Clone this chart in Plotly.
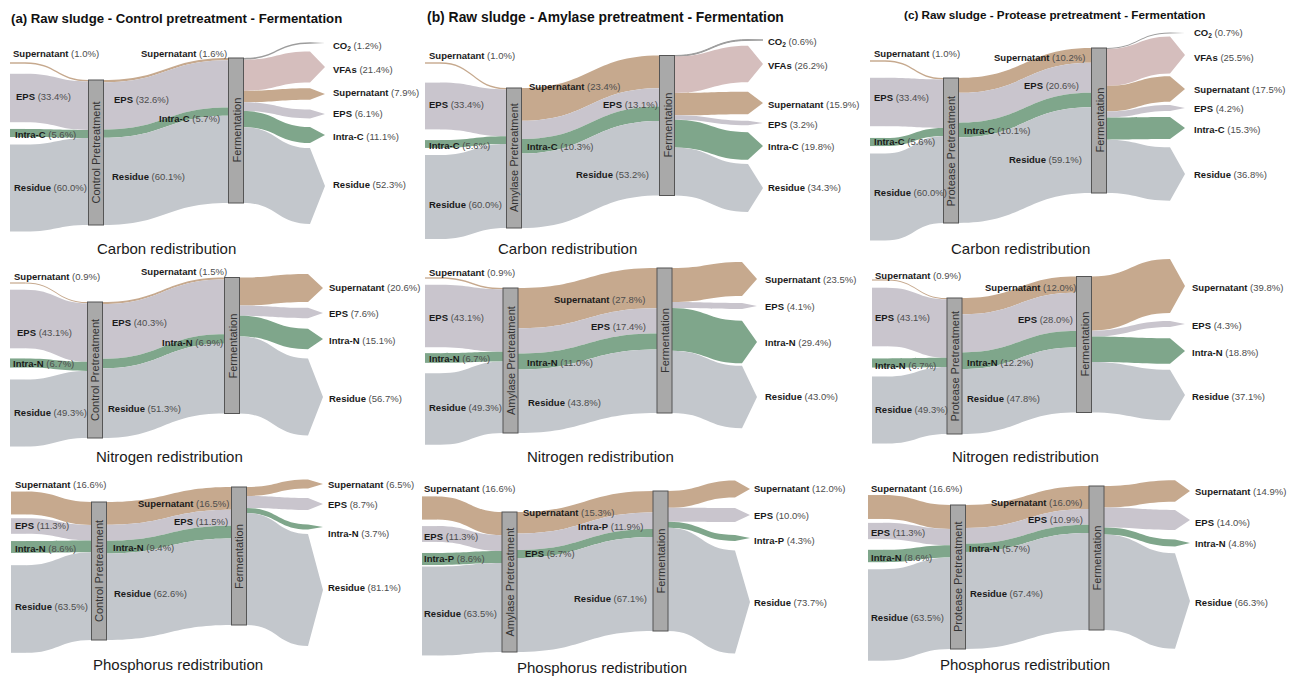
import plotly.graph_objects as go

W, HT = 1295, 676

# ---------------- data ----------------
raw_kinds = ["sup", "eps", "intra", "res"]
raw_values_C = [1.0, 33.4, 5.6, 60.0]
raw_values_N = [0.9, 43.1, 6.7, 49.3]
raw_values_P = [16.6, 11.3, 8.6, 63.5]
raw_names_C = ["Supernatant", "EPS", "Intra-C", "Residue"]
raw_names_N = ["Supernatant", "EPS", "Intra-N", "Residue"]
raw_names_P_ac = ["Supernatant", "EPS", "Intra-N", "Residue"]
raw_names_P_b = ["Supernatant", "EPS", "Intra-P", "Residue"]

mid_kinds = ["sup", "eps", "intra", "res"]
mid_names_aC = ["Supernatant", "EPS", "Intra-C", "Residue"]
mid_values_aC = [1.6, 32.6, 5.7, 60.1]
mid_names_aN = ["Supernatant", "EPS", "Intra-N", "Residue"]
mid_values_aN = [1.5, 40.3, 6.9, 51.3]
mid_names_aP = ["Supernatant", "EPS", "Intra-N", "Residue"]
mid_values_aP = [16.5, 11.5, 9.4, 62.6]
mid_names_bC = ["Supernatant", "EPS", "Intra-C", "Residue"]
mid_values_bC = [23.4, 13.1, 10.3, 53.2]
mid_names_bN = ["Supernatant", "EPS", "Intra-N", "Residue"]
mid_values_bN = [27.8, 17.4, 11.0, 43.8]
mid_names_bP = ["Supernatant", "Intra-P", "EPS", "Residue"]
mid_values_bP = [15.3, 11.9, 5.7, 67.1]
mid_names_cC = ["Supernatant", "EPS", "Intra-C", "Residue"]
mid_values_cC = [10.2, 20.6, 10.1, 59.1]
mid_names_cN = ["Supernatant", "EPS", "Intra-N", "Residue"]
mid_values_cN = [12.0, 28.0, 12.2, 47.8]
mid_names_cP = ["Supernatant", "EPS", "Intra-N", "Residue"]
mid_values_cP = [16.0, 10.9, 5.7, 67.4]

out_kinds_C = ["co2", "vfa", "sup", "eps", "intra", "res"]
out_kinds_NP = ["sup", "eps", "intra", "res"]
out_names_C = ["CO<sub>2</sub>", "VFAs", "Supernatant", "EPS", "Intra-C", "Residue"]
out_names_N = ["Supernatant", "EPS", "Intra-N", "Residue"]
out_names_P_ac = ["Supernatant", "EPS", "Intra-N", "Residue"]
out_names_P_b = ["Supernatant", "EPS", "Intra-P", "Residue"]
out_values_aC = [1.2, 21.4, 7.9, 6.1, 11.1, 52.3]
out_values_aN = [20.6, 7.6, 15.1, 56.7]
out_values_aP = [6.5, 8.7, 3.7, 81.1]
out_values_bC = [0.6, 26.2, 15.9, 3.2, 19.8, 34.3]
out_values_bN = [23.5, 4.1, 29.4, 43.0]
out_values_bP = [12.0, 10.0, 4.3, 73.7]
out_values_cC = [0.7, 25.5, 17.5, 4.2, 15.3, 36.8]
out_values_cN = [39.8, 4.3, 18.8, 37.1]
out_values_cP = [14.9, 14.0, 4.8, 66.3]

pre_names = {"a": "Control Pretreatment", "b": "Amylase Pretreatment", "c": "Protease Pretreatment"}
col_titles = {"a": "(a) Raw sludge - Control pretreatment - Fermentation",
              "b": "(b) Raw sludge - Amylase pretreatment - Fermentation",
              "c": "(c) Raw sludge - Protease pretreatment - Fermentation"}
row_captions = {"C": "Carbon redistribution", "N": "Nitrogen redistribution", "P": "Phosphorus redistribution"}

panels = {
    ("a", "C"): (raw_names_C, raw_values_C, mid_names_aC, mid_values_aC, out_names_C, out_values_aC, out_kinds_C),
    ("a", "N"): (raw_names_N, raw_values_N, mid_names_aN, mid_values_aN, out_names_N, out_values_aN, out_kinds_NP),
    ("a", "P"): (raw_names_P_ac, raw_values_P, mid_names_aP, mid_values_aP, out_names_P_ac, out_values_aP, out_kinds_NP),
    ("b", "C"): (raw_names_C, raw_values_C, mid_names_bC, mid_values_bC, out_names_C, out_values_bC, out_kinds_C),
    ("b", "N"): (raw_names_N, raw_values_N, mid_names_bN, mid_values_bN, out_names_N, out_values_bN, out_kinds_NP),
    ("b", "P"): (raw_names_P_b, raw_values_P, mid_names_bP, mid_values_bP, out_names_P_b, out_values_bP, out_kinds_NP),
    ("c", "C"): (raw_names_C, raw_values_C, mid_names_cC, mid_values_cC, out_names_C, out_values_cC, out_kinds_C),
    ("c", "N"): (raw_names_N, raw_values_N, mid_names_cN, mid_values_cN, out_names_N, out_values_cN, out_kinds_NP),
    ("c", "P"): (raw_names_P_ac, raw_values_P, mid_names_cP, mid_values_cP, out_names_P_ac, out_values_cP, out_kinds_NP),
}

# ---------------- layout / style ----------------
COL = {"sup": "#c6a98e", "eps": "#c9c5cd", "intra": "#7fa68b", "res": "#c3c7cc",
       "vfa": "#d5bebd", "co2": "#9d9d9d"}
NODE_FILL = "#a9a9a9"
NODE_LINE = "#555555"
CLEAR = "rgba(0,0,0,0)"
TH = 15
FONT = "Arial, Liberation Sans, sans-serif"
ROWS = {"C": (25, 245), "N": (255, 452), "P": (470, 662)}
title_pos = {"a": (9, 18, 13.2), "b": (425, 17, 13.9), "c": (902, 15, 11.7)}

geom = {
    ("a", "C"): dict(x0=10, tip=325, h=145, pre=(96, 152.5), fer=(236, 130.5),
                     left_y=[63, 98, 133, 188], out_y=[43, 67, 94, 114, 135, 186],
                     left_lab=[(12, 54), (15, 96), (14, 134), (13, 188)],
                     mid_lab=[(140, 53), (113, 100), (158, 118), (111, 176)],
                     out_lab_x=332, out_lab_y=[46, 69, 93, 114, 136, 184], cap=(166, 248)),
    ("a", "N"): dict(x0=10, tip=323, h=136, pre=(95, 370), fer=(232, 345.5),
                     left_y=[283, 319, 363, 413], out_y=[288, 313, 339, 397],
                     left_lab=[(13, 276), (16, 332), (12, 363), (13, 412)],
                     mid_lab=[(140, 271), (111, 322), (161, 342), (107, 408)],
                     out_lab_x=328, out_lab_y=[288, 313, 340, 398], cap=(170, 457)),
    ("a", "P"): dict(x0=11, tip=323, h=138, pre=(99, 571), fer=(239, 556),
                     left_y=[503, 526, 547, 609], out_y=[484, 504, 527, 590],
                     left_lab=[(14, 485), (14, 525), (14, 548), (14, 606)],
                     mid_lab=[(137, 503), (173, 521), (112, 547), (113, 593)],
                     out_lab_x=327, out_lab_y=[484, 504, 533, 587], cap=(178, 664)),
    ("b", "C"): dict(x0=425, tip=763, h=140, pre=(514, 158), fer=(667, 125.5),
                     left_y=[63, 106, 144, 197], out_y=[40, 64, 103, 123, 146, 188],
                     left_lab=[(428, 55), (428, 104), (428, 145), (428, 204)],
                     mid_lab=[(528, 87), (602, 105), (526, 147), (575, 174)],
                     out_lab_x=767, out_lab_y=[42, 66, 104, 124, 147, 188], cap=(567, 248)),
    ("b", "N"): dict(x0=425, tip=757, h=145, pre=(510.5, 360.5), fer=(664.5, 340.5),
                     left_y=[278, 316, 358, 409], out_y=[279, 306, 342, 397],
                     left_lab=[(428, 272), (428, 317), (428, 358), (428, 407)],
                     mid_lab=[(553, 299), (590, 326), (526, 362), (527, 402)],
                     out_lab_x=764, out_lab_y=[279, 306, 342, 397], cap=(600, 457)),
    ("b", "P"): dict(x0=422, tip=750, h=140, pre=(509.5, 582), fer=(660.5, 561),
                     left_y=[508, 534, 559, 611], out_y=[489, 515, 538, 602],
                     left_lab=[(423, 488), (423, 536), (423, 558), (423, 613)],
                     mid_lab=[(522, 512), (577, 526), (524, 553), (573, 598)],
                     out_lab_x=753, out_lab_y=[488, 515, 540, 602], cap=(602, 667)),
    ("c", "C"): dict(x0=870, tip=1185, h=145, pre=(951, 150.5), fer=(1099, 120.5),
                     left_y=[61, 102, 142, 197], out_y=[33, 55, 89, 108, 128, 174],
                     left_lab=[(873, 53), (873, 98), (873, 142), (873, 193)],
                     mid_lab=[(993, 58), (1023, 86), (963, 130), (1008, 159)],
                     out_lab_x=1193, out_lab_y=[33, 57, 89, 108, 129, 175], cap=(1020, 248)),
    ("c", "N"): dict(x0=872, tip=1185, h=136, pre=(954.5, 366), fer=(1084, 344.5),
                     left_y=[280, 317, 363, 410], out_y=[286, 324, 351, 395],
                     left_lab=[(874, 275), (874, 317), (874, 365), (874, 409)],
                     mid_lab=[(984, 288), (1017, 319), (966, 362), (966, 398)],
                     out_lab_x=1191, out_lab_y=[287, 325, 352, 396], cap=(1025, 457)),
    ("c", "P"): dict(x0=868, tip=1190, h=144, pre=(958, 577), fer=(1096.5, 558),
                     left_y=[507, 531, 556, 615], out_y=[491, 520, 543, 601],
                     left_lab=[(870, 488), (870, 532), (870, 557), (870, 617)],
                     mid_lab=[(990, 502), (1027, 519), (968, 548), (969, 593)],
                     out_lab_x=1194, out_lab_y=[491, 522, 543, 602], cap=(1025, 664)),
}


def fx(px):
    return px / W


def fy(py):
    return 1 - py / HT


def lab(name, v):
    return ("<b>%s</b> <span style='color:#4d4d4d'>(%.1f%%)</span>" % (name, v))


traces_back = []
traces_front = []
annotations = []
LAB_FONT = dict(family=FONT, size=9.5, color="#1a1a1a")

for key, (ln, lv, mn, mv, on, ov, ok) in panels.items():
    col, row = key
    g = geom[key]
    top, bot = ROWS[row]
    H = bot - top
    left_px = g["x0"]
    right_px = g["tip"] + TH
    Wd = right_px - left_px
    dom = dict(x=[fx(left_px), fx(right_px)], y=[fy(bot), fy(top)])

    def nx(px):
        return (px - left_px) / Wd

    h = g["h"]
    ky = h / sum(mv)
    pad_a = (H - ky * sum(lv)) / (len(lv) - 1)
    pad_c = (H - ky * sum(ov)) / (len(ov) - 1)

    # stage 1: raw sludge -> pretreatment
    n = len(lv)
    traces_back.append(go.Sankey(
        domain=dom, arrangement="fixed", hoverinfo="none",
        node=dict(
            label=[""] * (n + 1),
            x=[nx(left_px + TH / 2)] * n + [nx(g["pre"][0])],
            y=[(v - top) / H for v in g["left_y"]] + [(g["pre"][1] - top) / H],
            pad=pad_a, thickness=TH,
            color=[COL[k] for k in raw_kinds] + [NODE_FILL],
            line=dict(color=CLEAR, width=0), hoverinfo="none"),
        link=dict(source=list(range(n)), target=[n] * n, value=lv,
                  color=[COL[k] for k in raw_kinds], hoverinfo="none"),
    ))
    # stage 3: fermentation -> products (arrow heads)
    m = len(ov)
    traces_back.append(go.Sankey(
        domain=dom, arrangement="fixed", hoverinfo="none",
        node=dict(
            label=[""] * (m + 1),
            x=[nx(g["fer"][0])] + [nx(g["tip"] + TH / 2)] * m,
            y=[(g["fer"][1] - top) / H] + [(v - top) / H for v in g["out_y"]],
            pad=pad_c, thickness=TH,
            color=[NODE_FILL] + [CLEAR] * m,
            line=dict(color=CLEAR, width=0), hoverinfo="none"),
        link=dict(source=[0] * m, target=list(range(1, m + 1)), value=ov,
                  color=[COL[k] for k in ok], arrowlen=15, hoverinfo="none"),
    ))
    # stage 2: pretreatment -> fermentation (bordered process boxes)
    btop = min(g["pre"][1], g["fer"][1]) - h / 2
    bdom = dict(x=dom["x"], y=[fy(btop + h), fy(btop)])
    traces_front.append(go.Sankey(
        domain=bdom, arrangement="fixed", hoverinfo="none",
        node=dict(
            label=["", ""],
            x=[nx(g["pre"][0]), nx(g["fer"][0])],
            y=[(g["pre"][1] - btop) / h, (g["fer"][1] - btop) / h],
            pad=0, thickness=TH, color=[NODE_FILL, NODE_FILL],
            line=dict(color=NODE_LINE, width=1), hoverinfo="none"),
        link=dict(source=[0] * len(mv), target=[1] * len(mv), value=mv,
                  color=[COL[k] for k in mid_kinds], hoverinfo="none"),
    ))

    for (px, py), name, v in zip(g["left_lab"], ln, lv):
        annotations.append(dict(x=fx(px), y=fy(py), xanchor="left", yanchor="middle",
                                text=lab(name, v), showarrow=False, font=LAB_FONT, borderpad=0))
    for (px, py), name, v in zip(g["mid_lab"], mn, mv):
        annotations.append(dict(x=fx(px), y=fy(py), xanchor="left", yanchor="middle",
                                text=lab(name, v), showarrow=False, font=LAB_FONT, borderpad=0))
    for py, name, v in zip(g["out_lab_y"], on, ov):
        annotations.append(dict(x=fx(g["out_lab_x"]), y=fy(py), xanchor="left", yanchor="middle",
                                text=lab(name, v), showarrow=False, font=LAB_FONT, borderpad=0))
    annotations.append(dict(x=fx(g["pre"][0]), y=fy(g["pre"][1]), text=pre_names[col],
                            textangle=-90, showarrow=False, xanchor="center", yanchor="middle",
                            font=dict(family=FONT, size=11, color="#333333")))
    annotations.append(dict(x=fx(g["fer"][0]), y=fy(g["fer"][1]), text="Fermentation",
                            textangle=-90, showarrow=False, xanchor="center", yanchor="middle",
                            font=dict(family=FONT, size=11, color="#333333")))
    annotations.append(dict(x=fx(g["cap"][0]), y=fy(g["cap"][1]), text=row_captions[row],
                            showarrow=False, xanchor="center", yanchor="middle",
                            font=dict(family=FONT, size=15, color="#1a1a1a")))

for col, (px, py, fs) in title_pos.items():
    annotations.append(dict(x=fx(px), y=fy(py), text="<b>%s</b>" % col_titles[col],
                            showarrow=False, xanchor="left", yanchor="middle",
                            font=dict(family=FONT, size=fs, color="#111111")))

fig = go.Figure(traces_back + traces_front)
fig.update_layout(width=W, height=HT, margin=dict(l=0, r=0, t=0, b=0),
                  paper_bgcolor="white", plot_bgcolor="white",
                  annotations=annotations, font=dict(family=FONT))
fig.write_html("out.html")
